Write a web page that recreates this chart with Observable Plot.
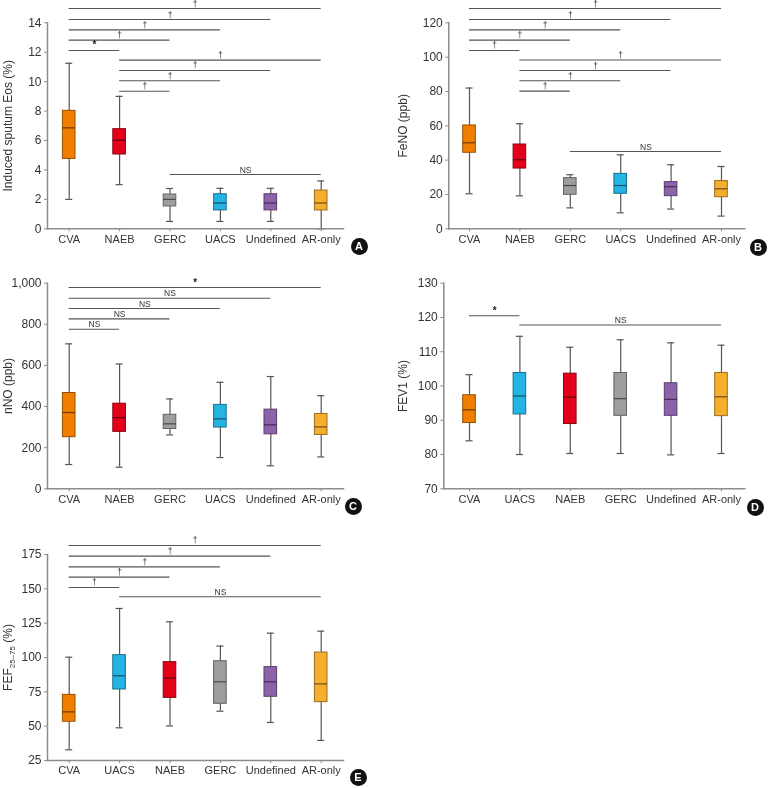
<!DOCTYPE html>
<html><head><meta charset="utf-8">
<script src="https://cdn.jsdelivr.net/npm/d3@7"></script>
<script src="https://cdn.jsdelivr.net/npm/@observablehq/plot@0.6"></script>
<style>
body{margin:0;background:#fff;}
#wrap{position:relative;width:770px;height:788px;font-family:"Liberation Sans",Arial,sans-serif;overflow:hidden;}
.panel{position:absolute;will-change:transform;}
.panel svg{overflow:visible;}
.badge{position:absolute;width:17px;height:17px;border-radius:50%;background:#111;color:#fff;font:bold 11px "Liberation Sans",Arial,sans-serif;text-align:center;line-height:17px;}
svg g[aria-label$="tick"]{stroke:#8c8c8c;}
svg g[aria-label="y-axis tick label"]{font-size:12px;}
</style></head><body><div id="wrap"></div>
<script>
// ---- colours per group ----
const colorCats = ["CVA", "NAEB", "GERC", "UACS", "Undefined", "AR-only"];
const colorValues = ["#F07F00", "#E2001A", "#9D9D9D", "#24B4E1", "#8C63AB", "#F6AE2D"];

// ---- Panel A: Induced sputum Eos (%) ----
const catsA = ["CVA", "NAEB", "GERC", "UACS", "Undefined", "AR-only"];
const loA  = [2.0, 3.0, 0.5, 0.5, 0.5, 0.0];
const q1A  = [4.75, 5.05, 1.52, 1.25, 1.25, 1.25];
const medA = [6.86, 6.02, 2.0, 1.75, 1.75, 1.75];
const q3A  = [8.02, 6.77, 2.33, 2.35, 2.35, 2.6];
const hiA  = [11.25, 9.0, 2.74, 2.75, 2.75, 3.25];
const ticksA = [0, 2, 4, 6, 8, 10, 12, 14];
const sigFromA = ["CVA", "CVA", "CVA", "CVA", "CVA", "NAEB", "NAEB", "NAEB", "NAEB", "GERC"];
const sigToA   = ["NAEB", "GERC", "UACS", "Undefined", "AR-only", "GERC", "UACS", "Undefined", "AR-only", "AR-only"];
const sigYA    = [12.12, 12.82, 13.52, 14.22, 14.97, 9.35, 10.06, 10.76, 11.46, 3.69];
const sigLabA  = ["*", "†", "†", "†", "†", "†", "†", "†", "†", "NS"];

// ---- Panel B: FeNO (ppb) ----
const catsB = ["CVA", "NAEB", "GERC", "UACS", "Undefined", "AR-only"];
const loB  = [20.4, 19.2, 12.2, 9.3, 11.5, 7.4];
const q1B  = [44.3, 35.1, 19.8, 20.4, 19.0, 18.4];
const medB = [50.1, 40.2, 25.2, 25.2, 24.5, 23.3];
const q3B  = [60.2, 49.1, 29.5, 32.0, 27.2, 27.8];
const hiB  = [82.0, 61.2, 31.5, 43.1, 37.3, 36.3];
const ticksB = [0, 20, 40, 60, 80, 100, 120];
const sigFromB = ["CVA", "CVA", "CVA", "CVA", "CVA", "NAEB", "NAEB", "NAEB", "NAEB", "GERC"];
const sigToB   = ["NAEB", "GERC", "UACS", "Undefined", "AR-only", "GERC", "UACS", "Undefined", "AR-only", "AR-only"];
const sigYB    = [103.9, 109.9, 115.9, 121.9, 128.3, 80.2, 86.2, 92.2, 98.3, 45.0];
const sigLabB  = ["†", "†", "†", "†", "†", "†", "†", "†", "†", "NS"];

// ---- Panel C: nNO (ppb) ----
const catsC = ["CVA", "NAEB", "GERC", "UACS", "Undefined", "AR-only"];
const loC  = [118, 105, 262, 152, 112, 155];
const q1C  = [251, 277, 291, 298, 265, 262];
const medC = [371, 346, 316, 340, 311, 301];
const q3C  = [466, 414, 360, 408, 385, 364];
const hiC  = [705, 607, 437, 518, 546, 453];
const ticksC = [0, 200, 400, 600, 800, 1000];
const sigFromC = ["CVA", "CVA", "CVA", "CVA", "CVA"];
const sigToC   = ["NAEB", "GERC", "UACS", "Undefined", "AR-only"];
const sigYC    = [776, 826.6, 876.8, 927, 979];
const sigLabC  = ["NS", "NS", "NS", "NS", "*"];

// ---- Panel D: FEV1 (%) ----
const catsD = ["CVA", "UACS", "NAEB", "GERC", "Undefined", "AR-only"];
const loD  = [84.0, 80.0, 80.3, 80.3, 79.9, 80.3];
const q1D  = [89.2, 91.7, 88.9, 91.3, 91.3, 91.2];
const medD = [93.05, 97.1, 96.75, 96.3, 96.1, 96.85];
const q3D  = [97.3, 103.8, 103.6, 103.8, 100.8, 103.8];
const hiD  = [103.3, 114.5, 111.3, 113.5, 112.6, 111.9];
const ticksD = [70, 80, 90, 100, 110, 120, 130];
const sigFromD = ["CVA", "UACS"];
const sigToD   = ["UACS", "AR-only"];
const sigYD    = [120.5, 117.8];
const sigLabD  = ["*", "NS"];

// ---- Panel E: FEF25–75 (%) ----
const catsE = ["CVA", "UACS", "NAEB", "GERC", "Undefined", "AR-only"];
const loE  = [32.8, 48.8, 50.2, 60.9, 52.7, 39.6];
const q1E  = [53.2, 76.7, 70.6, 66.3, 71.4, 67.5];
const medE = [60.4, 86.7, 85.0, 82.3, 82.3, 80.8];
const q3E  = [72.8, 101.7, 96.6, 97.3, 93.0, 103.6];
const hiE  = [100.2, 135.7, 126.0, 108.3, 117.7, 119.2];
const ticksE = [25, 50, 75, 100, 125, 150, 175];
const sigFromE = ["CVA", "CVA", "CVA", "CVA", "CVA", "UACS"];
const sigToE   = ["UACS", "NAEB", "GERC", "Undefined", "AR-only", "AR-only"];
const sigYE    = [151, 158.5, 166, 173.8, 181.6, 144.2];
const sigLabE  = ["†", "†", "†", "†", "†", "NS"];

const colorOf = c => colorValues[colorCats.indexOf(c)];
const wrap = document.getElementById("wrap");
const FONT = '"Liberation Sans", Arial, sans-serif';

function panel(o) {
  const boxes = o.cats.map((c, i) => ({c, i, lo: o.lo[i], q1: o.q1[i], med: o.med[i], q3: o.q3[i], hi: o.hi[i]}));
  const sigs = o.sigFrom.map((f, k) => ({a: o.cats.indexOf(f), b: o.cats.indexOf(o.sigTo[k]), y: o.sigY[k], t: o.sigLab[k]}));
  const hw = 0.125, cw = 0.07;
  const svg = Plot.plot({
    width: o.width, height: o.height,
    marginLeft: o.ml, marginRight: o.mr, marginTop: o.mt, marginBottom: o.mb,
    style: {fontFamily: FONT, fontSize: "11px", color: "#333", background: "transparent", overflow: "visible"},
    color: {type: "identity"},
    x: {domain: o.xDomain, ticks: o.cats.map((c, i) => i), tickFormat: i => o.cats[i], tickSize: 3, tickPadding: 3, label: null},
    y: {domain: o.yDomain, ticks: o.yTicks, tickSize: 3, tickPadding: 3, label: o.label, labelAnchor: "center", labelOffset: o.labelOffset, labelArrow: "none"},
    marks: [
      Plot.ruleX(boxes, {x: "i", y1: "lo", y2: "hi", stroke: "#555", strokeWidth: 1.2}),
      Plot.ruleY(boxes, {y: "lo", x1: d => d.i - cw, x2: d => d.i + cw, stroke: "#555", strokeWidth: 1.2}),
      Plot.ruleY(boxes, {y: "hi", x1: d => d.i - cw, x2: d => d.i + cw, stroke: "#555", strokeWidth: 1.2}),
      Plot.rect(boxes, {x1: d => d.i - hw, x2: d => d.i + hw, y1: "q1", y2: "q3",
        fill: d => colorOf(d.c), stroke: d => d3.color(colorOf(d.c)).darker(1.3).formatHex(), strokeWidth: 1}),
      Plot.ruleY(boxes, {y: "med", x1: d => d.i - hw, x2: d => d.i + hw,
        stroke: d => d3.color(colorOf(d.c)).darker(2.2).formatHex(), strokeWidth: 1.2}),
      Plot.ruleY(sigs, {y: "y", x1: "a", x2: "b", stroke: "#555", strokeWidth: 1.1}),
      Plot.text(sigs.filter(d => d.t !== "*"), {x: d => (d.a + d.b) / 2, y: "y", text: "t", dy: -2, lineAnchor: "bottom", fontSize: 8.5, fill: "#333"}),
      Plot.text(sigs.filter(d => d.t === "*"), {x: d => (d.a + d.b) / 2, y: "y", text: "t", dy: -2, lineAnchor: "bottom", fontSize: 10, fontWeight: "bold", fill: "#222"}),
      Plot.frame({anchor: "left", stroke: "#8c8c8c", strokeWidth: 1.5}),
      Plot.frame({anchor: "bottom", stroke: "#8c8c8c", strokeWidth: 1.5})
    ]
  });
  svg.querySelectorAll('g[aria-label="y-axis label"] text').forEach(t => t.setAttribute("font-size", "12"));
  if (o.sub) {
    const t = svg.querySelector('g[aria-label="y-axis label"] text');
    if (t) t.innerHTML = 'FEF<tspan font-size="8" dy="3">25–75</tspan><tspan dy="-3"> (%)</tspan>';
  }
  const div = document.createElement("div");
  div.className = "panel";
  div.style.left = o.left + "px";
  div.style.top = o.top + "px";
  div.appendChild(svg);
  wrap.appendChild(div);
  const b = document.createElement("div");
  b.className = "badge";
  b.textContent = o.badge;
  b.style.left = (o.bx - 8.5) + "px";
  b.style.top = (o.by - 8.5) + "px";
  wrap.appendChild(b);
}

const domL = [-0.4306, 5.4425];
panel({cats: catsA, lo: loA, q1: q1A, med: medA, q3: q3A, hi: hiA, sigFrom: sigFromA, sigTo: sigToA, sigY: sigYA, sigLab: sigLabA,
  yTicks: ticksA, yDomain: [0, 14], label: "Induced sputum Eos (%)", labelOffset: 44,
  left: 0, top: 0, width: 385, height: 260, ml: 47, mr: 42, mt: 22.3, mb: 31.7, xDomain: domL, badge: "A", bx: 359, by: 246});
panel({cats: catsB, lo: loB, q1: q1B, med: medB, q3: q3B, hi: hiB, sigFrom: sigFromB, sigTo: sigToB, sigY: sigYB, sigLab: sigLabB,
  yTicks: ticksB, yDomain: [0, 120], label: "FeNO (ppb)", labelOffset: 50,
  left: 385, top: 0, width: 385, height: 260, ml: 63.3, mr: 25.7, mt: 22.3, mb: 31.7, xDomain: [-0.4107, 5.4623], badge: "B", bx: 758, by: 247});
panel({cats: catsC, lo: loC, q1: q1C, med: medC, q3: q3C, hi: hiC, sigFrom: sigFromC, sigTo: sigToC, sigY: sigYC, sigLab: sigLabC,
  yTicks: ticksC, yDomain: [0, 1000], label: "nNO (ppb)", labelOffset: 44,
  left: 0, top: 260, width: 385, height: 260, ml: 47, mr: 42, mt: 22.7, mb: 31.7, xDomain: domL, badge: "C", bx: 353, by: 506});
panel({cats: catsD, lo: loD, q1: q1D, med: medD, q3: q3D, hi: hiD, sigFrom: sigFromD, sigTo: sigToD, sigY: sigYD, sigLab: sigLabD,
  yTicks: ticksD, yDomain: [70, 130], label: "FEV1 (%)", labelOffset: 45,
  left: 385, top: 260, width: 385, height: 260, ml: 58.3, mr: 25.7, mt: 22.7, mb: 31.7, xDomain: [-0.5099, 5.4623], badge: "D", bx: 755, by: 507});
panel({cats: catsE, lo: loE, q1: q1E, med: medE, q3: q3E, hi: hiE, sigFrom: sigFromE, sigTo: sigToE, sigY: sigYE, sigLab: sigLabE,
  yTicks: ticksE, yDomain: [25, 175], label: "FEF25–75 (%)", labelOffset: 44, sub: true,
  left: 0, top: 520, width: 385, height: 268, ml: 47, mr: 42, mt: 34, mb: 28, xDomain: domL, badge: "E", bx: 358, by: 777});
</script>
</body></html>
